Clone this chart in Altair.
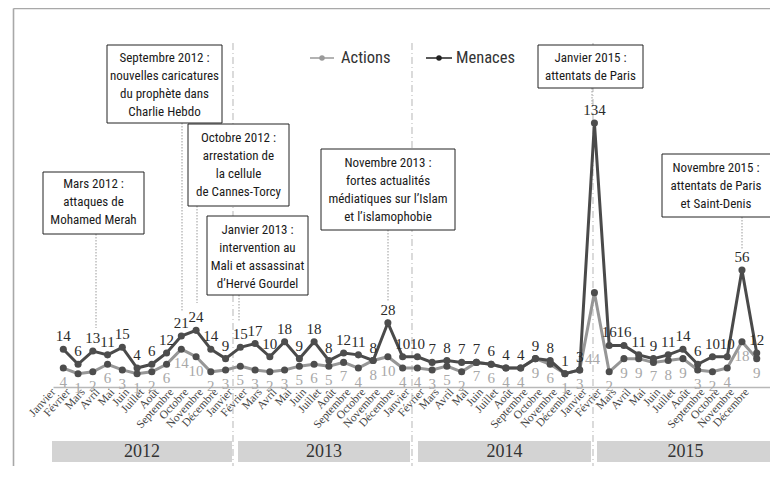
import json
import altair as alt
import pandas as pd

# ---------------- data ----------------
MONTHS = ["Janvier", "Février", "Mars", "Avril", "Mai", "Juin", "Juillet",
          "Août", "Septembre", "Octobre", "Novembre", "Décembre"]
YEARS = ["2012", "2013", "2014", "2015"]
ACTIONS = [4, 1, 2, 6, 3, 1, 2, 6, 14, 10, 2, 3,
           5, 3, 2, 3, 5, 6, 5, 7, 4, 8, 10, 4,
           4, 3, 5, 2, 7, 6, 4, 4, 9, 6, 1, 3,
           44, 2, 9, 9, 7, 8, 9, 3, 2, 4, 18, 9]
MENACES = [14, 6, 13, 11, 15, 4, 6, 12, 21, 24, 14, 9,
           15, 17, 10, 18, 9, 18, 8, 12, 11, 8, 28, 10,
           10, 7, 8, 7, 7, 6, 4, 4, 9, 8, 1, 3,
           134, 16, 16, 11, 9, 11, 14, 6, 10, 10, 56, 12]
SERIES = ["Actions", "Menaces"]
ANNOTATIONS = [
    "Mars 2012 :\nattaques de\nMohamed Merah",
    "Septembre 2012 :\nnouvelles caricatures\ndu prophète dans\nCharlie Hebdo",
    "Octobre 2012 :\narrestation de\nla cellule\nde Cannes-Torcy",
    "Janvier 2013 :\nintervention au\nMali et assassinat\nd’Hervé Gourdel",
    "Novembre 2013 :\nfortes actualités\nmédiatiques sur l’Islam\net l’islamophobie",
    "Janvier 2015 :\nattentats de Paris",
    "Novembre 2015 :\nattentats de Paris\net Saint-Denis",
]

# ---------------- layout (page pixels) ----------------
OX, OY = 53, 8            # plot-area origin on the page
W, H = 717, 379
# box: x0, x1, y0, y1, text-centre x, first-line y, leader x, leader y-end
BOXES = [
    (43, 144, 172, 234, 93.5, 184, 96, 328),
    (107, 222, 45, 123, 164.5, 58, 182, 312),
    (188, 289, 124, 206, 238.5, 138, 197, 303),
    (207, 308, 216, 295, 257.5, 230, 239, 322),
    (321, 455, 149, 230, 388, 163, 388, 302),
    (538, 643, 45, 88, 590.5, 58, 592, 104),
    (662, 790, 154, 217, 716, 168, 742, 250),
]
SEPARATORS = [233, 412, 593]
YEAR_BARS = [(52, 232), (238, 410), (418, 591), (597, 774)]

COND = "Noto Sans Condensed, Roboto Condensed, Roboto, sans-serif"
SERIF = "Liberation Serif, DejaVu Serif, serif"

n = len(ACTIONS)
df_a = pd.DataFrame({"i": range(n), "v": ACTIONS})
df_m = pd.DataFrame({"i": range(n), "v": MENACES})

X = alt.Scale(domain=[-0.698, 47.90], nice=False, zero=False)
Y = alt.Scale(domain=[-6.05, 195.0], nice=False, zero=False)
month_expr = json.dumps(MONTHS, ensure_ascii=False) + "[datum.value % 12]"
x_axis = alt.Axis(values=list(range(n)), labelExpr=month_expr, labelAngle=-48,
                  labelAlign="right", labelBaseline="middle", labelFont=SERIF,
                  labelFontSize=11.5, labelColor="#444444", labelPadding=3,
                  labelOffset=-10, ticks=False, grid=False, domainColor="#b8b8b8",
                  domainWidth=1.5, title=None, labelOverlap=False, labelBound=False,
                  labelFlush=False)


def px(v):
    return v - OX


def py(v):
    return v - OY


def xs(f):
    return alt.X(f, scale=None, axis=None)


def ys(f):
    return alt.Y(f, scale=None, axis=None)


# frame
frame_df = pd.DataFrame({"x": [px(13.5), px(13.5)], "x2": [px(13.5), W + 20],
                         "y": [py(8.5), py(8.5)], "y2": [py(490), py(8.5)]})
frame = alt.Chart(frame_df).mark_rule(color="#a8a8a8", strokeWidth=1.6).encode(
    x=xs("x:Q"), x2="x2:Q", y=ys("y:Q"), y2="y2:Q")

# year separators
sep_df = pd.DataFrame({"x": [px(s) for s in SEPARATORS], "y": py(43), "y2": py(466)})
seps = alt.Chart(sep_df).mark_rule(color="#bdbdbd", strokeWidth=1.1,
                                   strokeDash=[7, 3, 1, 3]).encode(
    x=xs("x:Q"), y=ys("y:Q"), y2="y2:Q")

# year bars
yb_df = pd.DataFrame({"year": YEARS,
                      "x": [px(a) for a, b in YEAR_BARS],
                      "x2": [px(b) for a, b in YEAR_BARS],
                      "xc": [px((a + b) / 2) for a, b in YEAR_BARS],
                      "y": py(441), "y2": py(462), "yc": py(452)})
ybars = alt.Chart(yb_df).mark_rect(color="#d3d3d3").encode(
    x=xs("x:Q"), x2="x2:Q", y=ys("y:Q"), y2="y2:Q")
ytext = alt.Chart(yb_df).mark_text(font=SERIF, fontSize=18, color="#333333",
                                   baseline="middle").encode(
    x=xs("xc:Q"), y=ys("yc:Q"), text="year:N")

# annotation boxes
box_df = pd.DataFrame({
    "t": ANNOTATIONS,
    "x": [px(b[0]) for b in BOXES], "x2": [px(b[1]) for b in BOXES],
    "y": [py(b[2]) for b in BOXES], "y2": [py(b[3]) for b in BOXES],
    "xc": [px(b[4]) for b in BOXES], "yc": [py(b[5]) for b in BOXES],
    "lx": [px(b[6]) for b in BOXES], "ly2": [py(b[7]) for b in BOXES],
})
leaders = alt.Chart(box_df).mark_rule(color="#9a9a9a", strokeWidth=1,
                                      strokeDash=[1.5, 1.5]).encode(
    x=xs("lx:Q"), y=ys("y2:Q"), y2="ly2:Q")
boxes = alt.Chart(box_df).mark_rect(fill="white", stroke="#222222",
                                    strokeWidth=1).encode(
    x=xs("x:Q"), x2="x2:Q", y=ys("y:Q"), y2="y2:Q")
box_text = alt.Chart(box_df).mark_text(font=COND, fontSize=13, lineHeight=18,
                                       lineBreak="\n", color="#1a1a1a",
                                       baseline="middle", align="center").encode(
    x=xs("xc:Q"), y=ys("yc:Q"), text="t:N")

# legend
leg_df = pd.DataFrame({"s": SERIES,
                       "x": [px(310), px(426)], "x2": [px(334), px(452)],
                       "xd": [px(322), px(439)], "xt": [px(341), px(456)],
                       "y": [py(58), py(58)]})
leg_line = alt.Chart(leg_df).mark_rule(strokeWidth=1.5).encode(
    x=xs("x:Q"), x2="x2:Q", y=ys("y:Q"),
    color=alt.Color("s:N", scale=alt.Scale(domain=SERIES, range=["#9a9a9a", "#222222"]),
                    legend=None))
leg_dot = alt.Chart(leg_df).mark_circle(size=30, opacity=1).encode(
    x=xs("xd:Q"), y=ys("y:Q"),
    color=alt.Color("s:N", scale=alt.Scale(domain=SERIES, range=["#9a9a9a", "#222222"]),
                    legend=None))
leg_text = alt.Chart(leg_df).mark_text(font=COND, fontSize=16.5, color="#333333",
                                       align="left", baseline="middle").encode(
    x=xs("xt:Q"), y=ys("y:Q"), text="s:N")

# data series
enc_x = alt.X("i:Q", scale=X, axis=x_axis)
enc_y = alt.Y("v:Q", scale=Y, axis=None)
line_a = alt.Chart(df_a).mark_line(color="#969696", strokeWidth=3).encode(x=enc_x, y=enc_y)
line_m = alt.Chart(df_m).mark_line(color="#4a4a4a", strokeWidth=3).encode(x=enc_x, y=enc_y)
pts_a = alt.Chart(df_a).mark_circle(size=50, color="#4d4d4d", opacity=1).encode(x=enc_x, y=enc_y)
pts_m = alt.Chart(df_m).mark_circle(size=50, color="#4d4d4d", opacity=1).encode(x=enc_x, y=enc_y)
lab_m = alt.Chart(df_m).mark_text(font=SERIF, fontSize=15, color="#2b2b2b",
                                  dy=-13, baseline="middle").encode(
    x=enc_x, y=enc_y, text="v:Q")
lab_a = alt.Chart(df_a).transform_filter("datum.v < 40").mark_text(
    font=SERIF, fontSize=15, color="#a8a8a8", dy=14, baseline="middle").encode(
    x=enc_x, y=enc_y, text="v:Q")
lab_a_peak = alt.Chart(df_a).transform_filter("datum.v >= 40").mark_text(
    font=SERIF, fontSize=15, color="#a8a8a8", dy=66, dx=-2, baseline="middle").encode(
    x=enc_x, y=enc_y, text="v:Q")

chart = alt.layer(
    frame, seps, ybars, ytext, leaders, boxes, box_text,
    leg_line, leg_dot, leg_text,
    line_a, line_m, pts_a, pts_m, lab_m, lab_a, lab_a_peak,
).properties(
    width=W, height=H,
    padding={"left": 45, "top": 0, "right": 0, "bottom": 79},
    autosize=alt.AutoSizeParams(type="none"),
    background="white",
).configure_view(stroke=None)

chart.save("out.html", embed_options={"renderer": "svg", "actions": False})
